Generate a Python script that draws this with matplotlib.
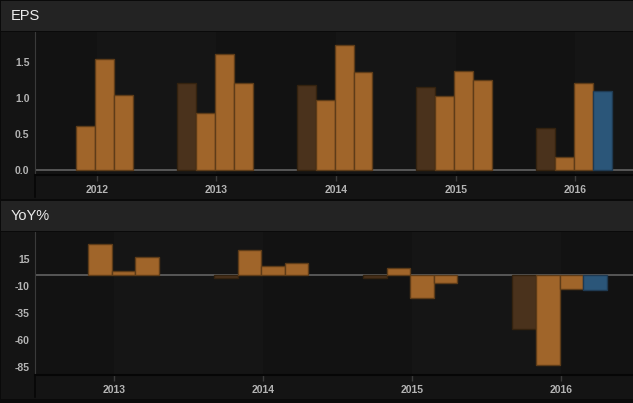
import numpy as np
import matplotlib
matplotlib.use('Agg')
import matplotlib.pyplot as plt
from matplotlib.lines import Line2D

plt.rcParams['font.family'] = ['Liberation Sans', 'DejaVu Sans']

# data
eps_years = [2012, 2013, 2014, 2015, 2016]
eps_q1 = [np.nan, 1.20, 1.17, 1.14, 0.58]
eps_q2 = [0.60, 0.78, 0.965, 1.02, 0.17]
eps_q3 = [1.535, 1.60, 1.73, 1.37, 1.20]
eps_q4 = [1.03, 1.20, 1.35, 1.25, 1.09]
eps_ticks = [0.0, 0.5, 1.0, 1.5]

yoy_years = [2013, 2014, 2015, 2016]
yoy_q1 = [np.nan, -2.2, -2.2, -49.7]
yoy_q2 = [28.9, 23.6, 6.5, -83.9]
yoy_q3 = [4.0, 8.7, -21.2, -12.5]
yoy_q4 = [17.1, 11.8, -6.9, -14.0]
yoy_ticks = [15, -10, -35, -60, -85]

W, H = 633, 403
ORANGE = '#a0652a'
BROWN = '#4a321c'
BLUE = '#2b5679'
LABEL = '#b4b4b4'

def rect(x0, y0, x1, y1):
    return [x0 / W, 1 - y1 / H, (x1 - x0) / W, (y1 - y0) / H]

fig = plt.figure(figsize=(W / 100, H / 100), dpi=100, facecolor='#0a0a0a')

def bar_colors(n, last_blue):
    cols = []
    for i in range(n):
        row = [BROWN, ORANGE, ORANGE, ORANGE]
        cols.append(row)
    if last_blue:
        cols[-1][3] = BLUE
    return cols

def panel(top, title, years, qs, ticks, ylim, xlim, light_from, fmt):
    # title bar
    tb = fig.add_axes(rect(1, top + 1, W, top + 31))
    tb.set_facecolor('#232323')
    tb.set_xticks([]); tb.set_yticks([])
    for s in tb.spines.values():
        s.set_visible(False)
    tb.text(10 / (W - 1), 0.5, title, transform=tb.transAxes, va='center', ha='left',
            fontsize=10.5, color='#ececec')

    # panel background
    bg = fig.add_axes(rect(1, top + 32, W, top + 199))
    bg.set_facecolor('#141414')
    bg.set_xticks([]); bg.set_yticks([])
    for s in bg.spines.values():
        s.set_visible(False)

    ax = fig.add_axes(rect(35, top + 32, W, top + 175))
    ax.set_facecolor('#121212')
    ax.set_xlim(xlim)
    ax.set_ylim(ylim)

    # alternating bands between year ticks
    edges = list(years) + [xlim[1]]
    for i in range(len(years)):
        if i % 2 == light_from:
            ax.axvspan(edges[i], edges[i + 1], color='#151515', lw=0, zorder=0)

    w = 0.158
    cols = bar_colors(len(years), True)
    for q in range(4):
        x = np.array(years) + (q - 1.5) * w - 0.012
        vals = qs[q]
        for i in range(len(years)):
            if np.isnan(vals[i]):
                continue
            c = cols[i][q]
            ec = '#1f3a52' if c == BLUE else ('#33220f' if c == BROWN else '#5e3c18')
            ax.bar(x[i], vals[i], width=w, color=c, edgecolor=ec, linewidth=1.0, zorder=3)

    ax.axhline(0, color='#5c5c5c', lw=1.3, zorder=2)

    ax.set_xticks(years)
    ax.set_xticklabels([str(y) for y in years])
    ax.set_yticks(ticks)
    ax.set_yticklabels([fmt(t) for t in ticks])
    ax.tick_params(axis='x', direction='out', length=4, width=1, color='#3c3c3c',
                   pad=3, labelsize=7.5, labelcolor=LABEL)
    ax.tick_params(axis='y', length=0, pad=4, labelsize=7.5, labelcolor=LABEL)
    for lab in ax.get_xticklabels() + ax.get_yticklabels():
        lab.set_fontweight('bold')
    ax.spines['top'].set_visible(False)
    ax.spines['right'].set_visible(False)
    ax.spines['left'].set_color('#3a3a3a')
    ax.spines['bottom'].set_color('#060606')
    ax.spines['bottom'].set_linewidth(1.5)

    # axis line continuing into the label strip
    fig.add_artist(Line2D([35 / W, 35 / W], [1 - (top + 175) / H, 1 - (top + 197) / H],
                          transform=fig.transFigure, color='#060606', lw=1.2))
    return ax

panel(0, 'EPS', eps_years, [eps_q1, eps_q2, eps_q3, eps_q4], eps_ticks,
      (-0.076, 1.91), (2011.484, 2016.482), 0, lambda t: '%.1f' % t)
panel(200, 'YoY%', yoy_years, [yoy_q1, yoy_q2, yoy_q3, yoy_q4], yoy_ticks,
      (-92.9, 40.4), (2012.473, 2016.48), 0, lambda t: '%d' % t)

fig.savefig('out.png', dpi=100, facecolor=fig.get_facecolor())
